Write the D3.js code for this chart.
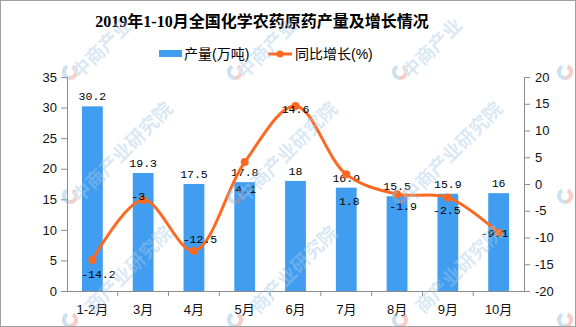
<!DOCTYPE html>
<html><head><meta charset="utf-8">
<script src="https://cdn.jsdelivr.net/npm/d3@7/dist/d3.min.js"></script>
<style>
html,body{margin:0;padding:0;background:#fff;}
svg{display:block;}
</style></head>
<body>
<svg id="chart" width="576" height="327"></svg>
<script>
const categories = ['1-2月','3月','4月','5月','6月','7月','8月','9月','10月'];
const outputValues = [30.2,19.3,17.5,17.8,18,16.9,15.5,15.9,16];
const growthValues = [-14.2,-3,-12.5,4.1,14.6,1.8,-1.9,-2.5,-9.1];
const leftTicks = [0,5,10,15,20,25,30,35];
const rightTicks = [-20,-15,-10,-5,0,5,10,15,20];
const titleText = '2019年1-10月全国化学农药原药产量及增长情况';
const legendLabels = ['产量(万吨)','同比增长(%)'];
const watermarkText = '中商产业研究院';

// label placement (layout only)
const growthLabelDx = [6,-5,6,1,0,3,6,-1,-4];
const growthLabelDy = [18,0,-8,31,7,31,16,17,4];

const W = 576, H = 327;
const plot = {left:67, right:524, top:77, bottom:291};
const barColor = '#419df0', lineColor = '#fc6a22', axisColor = '#8c8c8c';
const cjk = '"Liberation Serif","Noto Sans CJK SC",serif';
const sans = '"Liberation Sans","Noto Sans CJK SC",sans-serif';
const mono = '"Liberation Mono","Noto Sans CJK SC",monospace';

const svg = d3.select('#chart');
svg.append('rect').attr('x',0).attr('y',0).attr('width',W).attr('height',H).attr('fill','#fff');

const x = d3.scaleBand().domain(categories).range([plot.left, plot.right]).padding(0);
const yL = d3.scaleLinear().domain([0,35]).range([plot.bottom, plot.top]);
const yR = d3.scaleLinear().domain([-20,20]).range([plot.bottom, plot.top]);
const bw = x.bandwidth()*0.41;

// title
svg.append('text').attr('x',262).attr('y',27).attr('text-anchor','middle')
  .attr('font-family',cjk).attr('font-weight','bold').attr('font-size',16).attr('fill','#000')
  .text(titleText);

// legend
const lg = svg.append('g');
lg.append('rect').attr('x',159).attr('y',50).attr('width',23).attr('height',7).attr('fill',barColor);
lg.append('text').attr('x',184).attr('y',59).attr('font-family',sans).attr('font-size',14).attr('fill','#000').text(legendLabels[0]);
lg.append('line').attr('x1',268).attr('x2',292).attr('y1',54).attr('y2',54).attr('stroke',lineColor).attr('stroke-width',3);
lg.append('circle').attr('cx',280).attr('cy',54).attr('r',3.5).attr('fill',lineColor);
lg.append('text').attr('x',295).attr('y',59).attr('font-family',sans).attr('font-size',14).attr('fill','#000').text(legendLabels[1]);

// bars
svg.append('g').selectAll('rect').data(outputValues).join('rect')
  .attr('x',(d,i)=>x(categories[i])+x.bandwidth()/2-bw/2)
  .attr('y',d=>yL(d)).attr('width',bw).attr('height',d=>plot.bottom-yL(d))
  .attr('fill',barColor);

// bar labels
svg.append('g').selectAll('text').data(outputValues).join('text')
  .attr('x',(d,i)=>x(categories[i])+x.bandwidth()/2)
  .attr('y',d=>yL(d)-6).attr('text-anchor','middle')
  .attr('font-family',mono).attr('font-size',11.5).attr('fill','#000')
  .text(d=>String(d));

// axes
const axL = svg.append('g').attr('transform',`translate(${plot.left},0)`)
  .call(d3.axisLeft(yL).tickValues(leftTicks).tickSize(6).tickPadding(4).tickFormat(d=>String(d)));
const axR = svg.append('g').attr('transform',`translate(${plot.right},0)`)
  .call(d3.axisRight(yR).tickValues(rightTicks).tickSize(6).tickPadding(5).tickFormat(d=>String(d)));
const axB = svg.append('g').attr('transform',`translate(0,${plot.bottom})`)
  .call(d3.axisBottom(x).tickSize(0).tickPadding(14));
[axL,axR,axB].forEach(a=>{
  a.select('.domain').attr('stroke',axisColor);
  a.selectAll('.tick line').attr('stroke',axisColor);
  a.selectAll('.tick text').attr('font-family',sans).attr('font-size',13).attr('fill','#111');
});
axB.select('.domain').attr('d',`M${plot.left},0.5H${plot.right}`);
axB.append('g').selectAll('line').data(categories.slice(1)).join('line')
  .attr('x1',d=>x(d)).attr('x2',d=>x(d)).attr('y1',0).attr('y2',5).attr('stroke',axisColor);

// growth line
const pts = growthValues.map((v,i)=>[x(categories[i])+x.bandwidth()/2, yR(v)]);
svg.append('path').datum(pts)
  .attr('d',d3.line().curve(d3.curveCatmullRom.alpha(0.5)))
  .attr('fill','none').attr('stroke',lineColor).attr('stroke-width',3);
svg.append('g').selectAll('circle').data(pts).join('circle')
  .attr('cx',d=>d[0]).attr('cy',d=>d[1]).attr('r',4).attr('fill',lineColor);
svg.append('g').selectAll('text').data(growthValues).join('text')
  .attr('x',(d,i)=>pts[i][0]+growthLabelDx[i])
  .attr('y',(d,i)=>pts[i][1]+growthLabelDy[i])
  .attr('text-anchor','middle').attr('font-family',mono).attr('font-size',11.5).attr('fill','#000')
  .text(d=>String(d));

// watermarks (drawn per character, only characters that fit inside the frame)
const wm = svg.append('g').attr('pointer-events','none').attr('opacity',0.42);
const wmCols = [70,235,400,565], wmRows = [72,196,320];
const step = 19/Math.SQRT2;
wmRows.forEach(ry=>wmCols.forEach(cx=>{
  if (cx+8 < W-2 && ry-8 > 2) {
    const g = wm.append('g').attr('transform',`translate(${cx},${ry})`);
    g.append('path').attr('d',d3.arc()({innerRadius:4,outerRadius:8,startAngle:Math.PI*0.15,endAngle:Math.PI*1.0}))
      .attr('fill','#e98a7a');
    g.append('path').attr('d',d3.arc()({innerRadius:4,outerRadius:8,startAngle:Math.PI*1.0,endAngle:Math.PI*1.85}))
      .attr('fill','#8ab8dc');
  }
  Array.from(watermarkText).forEach((ch,k)=>{
    const ox = cx+10+k*step, oy = ry+8-k*step;
    if (ox < 3 || ox+28 > W-3 || oy-28 < 3 || oy > H-3) return;
    wm.append('text').attr('transform',`translate(${ox},${oy}) rotate(-45)`)
      .attr('font-family','"Noto Sans CJK SC",sans-serif').attr('font-weight','bold')
      .attr('font-size',19).attr('fill','#a6c9e6').text(ch);
  });
}));

// outer border
svg.append('rect').attr('x',0.5).attr('y',0.5).attr('width',W-1).attr('height',H-1)
  .attr('fill','none').attr('stroke','#a0a0a0');
</script>
</body></html>
